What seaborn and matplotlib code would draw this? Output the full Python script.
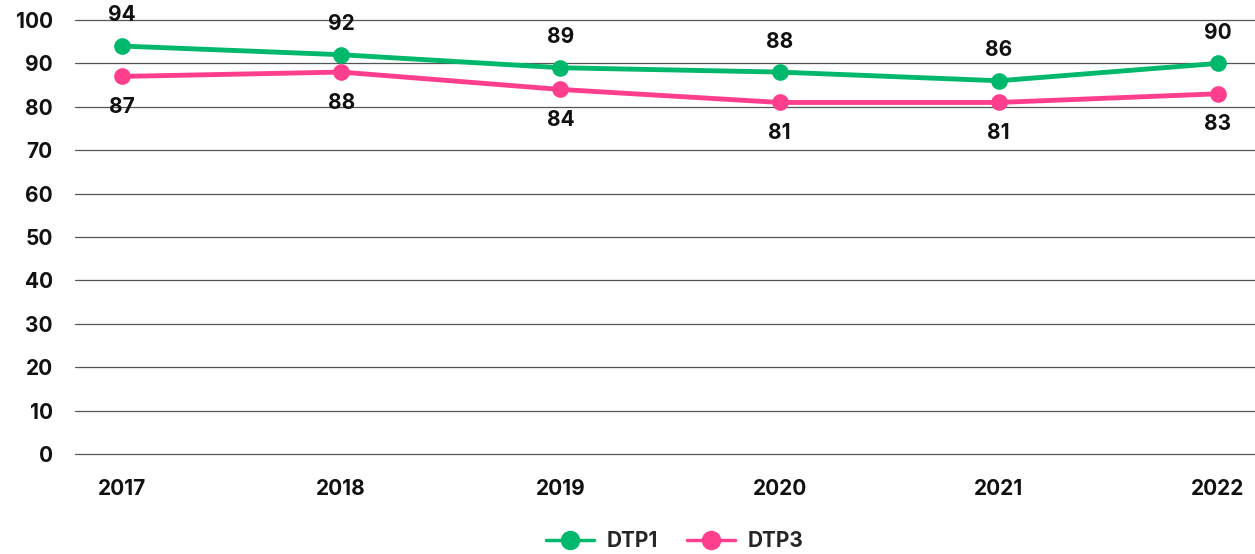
import matplotlib
matplotlib.use("Agg")
import matplotlib.pyplot as plt
import numpy as np
import pandas as pd
import seaborn as sns
from matplotlib.lines import Line2D

years = ["2017", "2018", "2019", "2020", "2021", "2022"]
dtp1 = [94, 92, 89, 88, 86, 90]
dtp3 = [87, 88, 84, 81, 81, 83]
series_names = ["DTP1", "DTP3"]
colors = {"DTP1": "#00B86B", "DTP3": "#FF3F8E"}

df = pd.concat([
    pd.DataFrame({"year": years, "pos": range(len(years)), "value": dtp1, "series": "DTP1"}),
    pd.DataFrame({"year": years, "pos": range(len(years)), "value": dtp3, "series": "DTP3"}),
])

sns.set_style("white")
plt.rcParams["font.family"] = ["Inter", "DejaVu Sans"]
plt.rcParams["font.weight"] = "bold"

fig = plt.figure(figsize=(12.55, 5.54), dpi=100)
ax = fig.add_axes([0.0598, 0.1805, 0.9402, 0.7834])

sns.lineplot(data=df, x="pos", y="value", hue="series", hue_order=series_names,
             palette=colors, marker="o", markersize=12, markeredgewidth=0,
             linewidth=3.5, ax=ax, zorder=3, legend=False)

# value labels: DTP1 above, DTP3 below
for name, vals, off in [("DTP1", dtp1, 22), ("DTP3", dtp3, -22)]:
    for i, v in enumerate(vals):
        ax.annotate(str(v), (i, v), xytext=(0, off), textcoords="offset points",
                    ha="center", va="center", fontsize=15, fontweight="bold",
                    color="#111111", zorder=4)

ax.set_xlim(-0.214, 5.169)
ax.set_ylim(0, 100)
ax.set_yticks(np.arange(0, 101, 10))
ax.set_xticks(range(len(years)))
ax.set_xticklabels(years)
ax.yaxis.grid(True, color="#555555", linewidth=0.9)
for gl in ax.get_ygridlines():
    gl.set_clip_on(False)
ax.set_axisbelow(True)
ax.tick_params(axis="both", length=0, labelsize=15, colors="#111111")
ax.tick_params(axis="y", pad=16)
ax.tick_params(axis="x", pad=18)
for lab in ax.get_xticklabels() + ax.get_yticklabels():
    lab.set_fontweight("bold")
for s in ax.spines.values():
    s.set_visible(False)
ax.set_xlabel("")
ax.set_ylabel("")

handles = [Line2D([], [], color=colors[n], linewidth=2.5, marker="o",
                  markersize=14, markeredgewidth=0) for n in series_names]
ax.legend(handles, series_names, loc="center", bbox_to_anchor=(0.508, -0.2), ncol=2,
          frameon=False, handlelength=2.3, handletextpad=0.6, columnspacing=1.4,
          prop={"weight": "bold", "size": 15})

fig.savefig("out.png", dpi=100)
